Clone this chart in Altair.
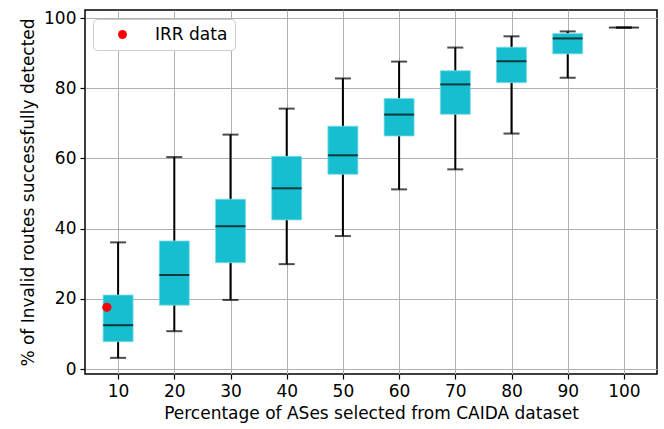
import altair as alt
import pandas as pd

positions = [10, 20, 30, 40, 50, 60, 70, 80, 90, 100]
whisker_low = [3.2, 10.8, 19.7, 29.9, 37.9, 51.2, 56.9, 67.1, 83.0, 97.3]
q1 = [7.8, 18.2, 30.3, 42.5, 55.5, 66.4, 72.6, 81.6, 89.8, 97.3]
median = [12.5, 26.8, 40.7, 51.5, 60.9, 72.5, 81.1, 87.7, 94.2, 97.3]
q3 = [21.1, 36.5, 48.4, 60.6, 69.2, 77.1, 85.0, 91.7, 95.6, 97.3]
whisker_high = [36.1, 60.4, 66.8, 74.2, 82.8, 87.6, 91.6, 94.8, 96.2, 97.3]

irr_x = [8]
irr_y = [17.6]
irr_label = ["IRR data"]

df = pd.DataFrame({
    "pos": positions, "wlo": whisker_low, "q1": q1, "med": median,
    "q3": q3, "whi": whisker_high,
})
df_irr = pd.DataFrame({"x": irr_x, "y": irr_y, "label": irr_label})

FONT = "DejaVu Sans"
FS = 17
xscale = alt.Scale(domain=[5, 105], nice=False, zero=False)
yscale = alt.Scale(domain=[-1.4, 102.3], nice=False, zero=False)

xax = alt.Axis(values=positions, title="Percentage of ASes selected from CAIDA dataset",
               grid=True, gridColor="#b0b0b0", gridWidth=1, domain=False,
               tickColor="black", tickSize=5, tickWidth=1.2, labelFontSize=FS,
               titleFontSize=FS, labelColor="black", titleColor="black",
               labelFont=FONT, titleFont=FONT, titleFontWeight="normal",
               labelPadding=4, titlePadding=6)
yax = alt.Axis(values=[0, 20, 40, 60, 80, 100], title="% of Invalid routes successfully detected",
               grid=True, gridColor="#b0b0b0", gridWidth=1, domain=False,
               tickColor="black", tickSize=5, tickWidth=1.2, labelFontSize=FS,
               titleFontSize=FS, labelColor="black", titleColor="black",
               labelFont=FONT, titleFont=FONT, titleFontWeight="normal",
               labelPadding=4, titlePadding=6)

base = alt.Chart(df)

whisk = base.mark_rule(color="black", strokeWidth=2).encode(
    x=alt.X("pos:Q", scale=xscale, axis=xax),
    y=alt.Y("wlo:Q", scale=yscale, axis=yax),
    y2="whi:Q",
)
box = base.mark_bar(color="#17becf", size=30, stroke="#7fdce8", strokeWidth=0.8).encode(
    x=alt.X("pos:Q", scale=xscale),
    y=alt.Y("q1:Q", scale=yscale),
    y2="q3:Q",
)
cap_lo = base.mark_tick(color="black", orient="horizontal", size=16, thickness=2).encode(
    x=alt.X("pos:Q", scale=xscale), y=alt.Y("wlo:Q", scale=yscale))
cap_hi = base.mark_tick(color="black", orient="horizontal", size=16, thickness=2).encode(
    x=alt.X("pos:Q", scale=xscale), y=alt.Y("whi:Q", scale=yscale))
med = base.mark_tick(color="black", orient="horizontal", size=30, thickness=2).encode(
    x=alt.X("pos:Q", scale=xscale), y=alt.Y("med:Q", scale=yscale))

irr = alt.Chart(df_irr).mark_point(filled=True, shape="circle", size=85, opacity=1).encode(
    x=alt.X("x:Q", scale=xscale),
    y=alt.Y("y:Q", scale=yscale),
    color=alt.Color("label:N", scale=alt.Scale(range=["#ff0000"]),
                    legend=alt.Legend(title=None, orient="none", legendX=8, legendY=9,
                                      fillColor="white", strokeColor="#cccccc",
                                      cornerRadius=4, padding=7, symbolSize=80,
                                      symbolOffset=14, labelOffset=24,
                                      labelFontSize=FS, labelFont=FONT,
                                      labelColor="black", symbolType="circle",
                                      symbolStrokeWidth=0)),
)

chart = alt.layer(whisk, box, cap_lo, cap_hi, med, irr).properties(
    width=572, height=364,
    autosize=alt.AutoSizeParams(type="none"),
    padding={"left": 85, "top": 10, "right": 7, "bottom": 55},
    background="white",
).configure_view(stroke="black", strokeWidth=1.5)

chart.save("out.html", embed_options={"renderer": "svg", "actions": False})
